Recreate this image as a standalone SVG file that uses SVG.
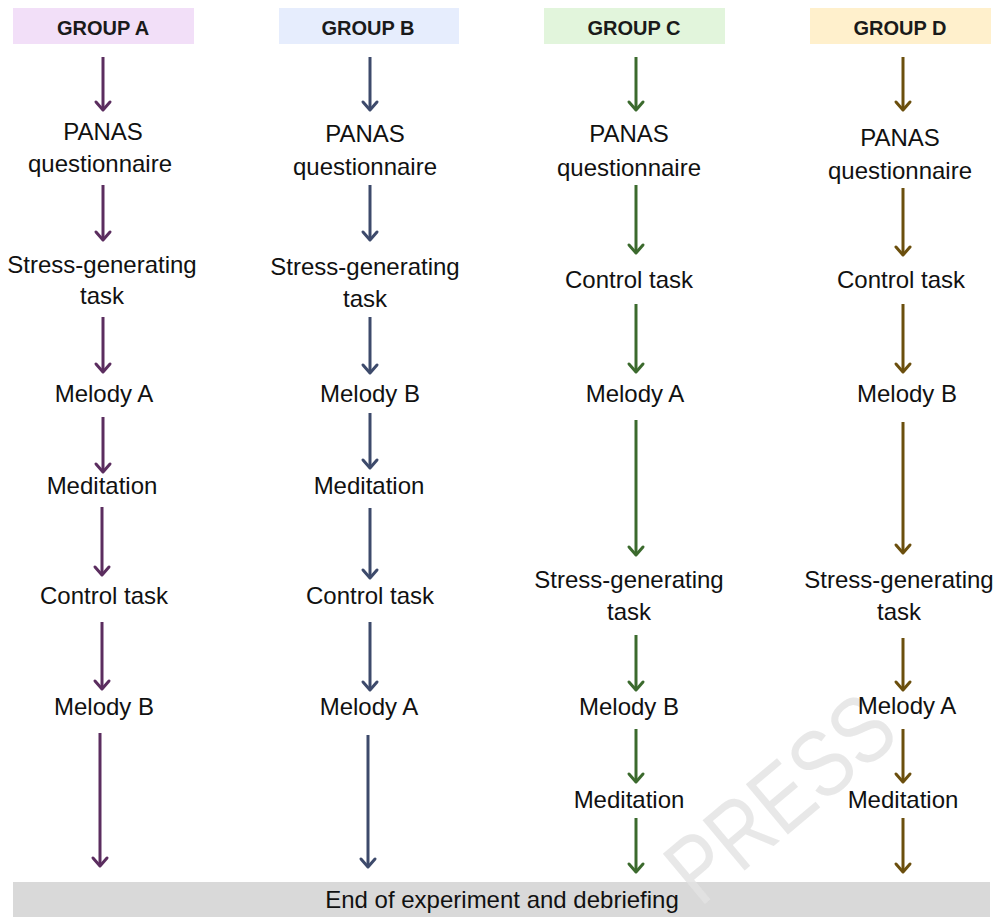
<svg xmlns="http://www.w3.org/2000/svg" width="996" height="917" viewBox="0 0 996 917">
<style>
.hdr{font-family:"Liberation Sans",Arial,sans-serif;font-weight:bold;font-size:20px;fill:#1a1a1a;text-anchor:middle}
.t{font-family:"Liberation Sans",Arial,sans-serif;font-size:24px;fill:#111;text-anchor:middle}
.end{font-family:"Liberation Sans",Arial,sans-serif;font-size:24px;fill:#111;text-anchor:middle}
.wm{font-family:"Liberation Sans",Arial,sans-serif;font-size:95px;fill:#e2e2e2;fill-opacity:0.8}
.ca{stroke:#5b2d5f;stroke-width:3;fill:none;marker-end:url(#ma)}
.cb{stroke:#3d4a6b;stroke-width:3;fill:none;marker-end:url(#mb)}
.cc{stroke:#3b6a2d;stroke-width:3;fill:none;marker-end:url(#mc)}
.cd{stroke:#6b4f0d;stroke-width:3;fill:none;marker-end:url(#md)}
</style>
<defs>
<marker id="ma" markerUnits="userSpaceOnUse" orient="auto" refX="0" refY="0" markerWidth="20" markerHeight="20" overflow="visible"><path d="M-8,-7 L0,0 L-8,7" fill="none" stroke="#5b2d5f" stroke-width="3" stroke-linecap="round" stroke-linejoin="round"/></marker>
<marker id="mb" markerUnits="userSpaceOnUse" orient="auto" refX="0" refY="0" markerWidth="20" markerHeight="20" overflow="visible"><path d="M-8,-7 L0,0 L-8,7" fill="none" stroke="#3d4a6b" stroke-width="3" stroke-linecap="round" stroke-linejoin="round"/></marker>
<marker id="mc" markerUnits="userSpaceOnUse" orient="auto" refX="0" refY="0" markerWidth="20" markerHeight="20" overflow="visible"><path d="M-8,-7 L0,0 L-8,7" fill="none" stroke="#3b6a2d" stroke-width="3" stroke-linecap="round" stroke-linejoin="round"/></marker>
<marker id="md" markerUnits="userSpaceOnUse" orient="auto" refX="0" refY="0" markerWidth="20" markerHeight="20" overflow="visible"><path d="M-8,-7 L0,0 L-8,7" fill="none" stroke="#6b4f0d" stroke-width="3" stroke-linecap="round" stroke-linejoin="round"/></marker>
</defs>
<rect width="996" height="917" fill="#ffffff"/>

<g id="end">
<rect x="13" y="882" width="977" height="40" fill="#d9d9d9"/>
<text class="end" x="502" y="908">End of experiment and debriefing</text>
</g>

<text class="wm" transform="translate(700,908) rotate(-40) scale(0.82,1)">PRESS</text>

<g id="headers">
<g id="groupA"><rect x="13" y="8" width="181" height="36" fill="#f2dff8"/><text class="hdr" x="103" y="35">GROUP A</text></g>
<g id="groupB"><rect x="279" y="8" width="180" height="36" fill="#e6edfd"/><text class="hdr" x="368" y="35">GROUP B</text></g>
<g id="groupC"><rect x="544" y="8" width="181" height="36" fill="#e2f5dc"/><text class="hdr" x="634" y="35">GROUP C</text></g>
<g id="groupD"><rect x="810" y="8" width="181" height="36" fill="#fff0cc"/><text class="hdr" x="900" y="35">GROUP D</text></g>
</g>

<g id="connectors">
<line class="ca" x1="103" y1="57" x2="103" y2="110"/>
<line class="ca" x1="103" y1="185" x2="103" y2="240"/>
<line class="ca" x1="103" y1="317" x2="103" y2="372"/>
<line class="ca" x1="103" y1="417" x2="103" y2="472"/>
<line class="ca" x1="102" y1="507" x2="102" y2="575"/>
<line class="ca" x1="102" y1="622" x2="102" y2="689"/>
<line class="ca" x1="100" y1="733" x2="100" y2="866"/>

<line class="cb" x1="370" y1="57" x2="370" y2="110"/>
<line class="cb" x1="370" y1="185" x2="370" y2="240"/>
<line class="cb" x1="370" y1="317" x2="370" y2="373"/>
<line class="cb" x1="370" y1="413" x2="370" y2="468"/>
<line class="cb" x1="370" y1="508" x2="370" y2="578"/>
<line class="cb" x1="370" y1="622" x2="370" y2="690"/>
<line class="cb" x1="368" y1="735" x2="368" y2="867"/>

<line class="cc" x1="636" y1="57" x2="636" y2="110"/>
<line class="cc" x1="636" y1="185" x2="636" y2="253"/>
<line class="cc" x1="636" y1="304" x2="636" y2="372"/>
<line class="cc" x1="636" y1="420" x2="636" y2="555"/>
<line class="cc" x1="636" y1="635" x2="636" y2="690"/>
<line class="cc" x1="636" y1="729" x2="636" y2="782"/>
<line class="cc" x1="636" y1="818" x2="636" y2="872"/>

<line class="cd" x1="903" y1="57" x2="903" y2="110"/>
<line class="cd" x1="903" y1="188" x2="903" y2="255"/>
<line class="cd" x1="903" y1="304" x2="903" y2="372"/>
<line class="cd" x1="903" y1="422" x2="903" y2="553"/>
<line class="cd" x1="903" y1="638" x2="903" y2="690"/>
<line class="cd" x1="903" y1="729" x2="903" y2="782"/>
<line class="cd" x1="903" y1="818" x2="903" y2="872"/>
</g>

<g id="colA">
<g id="a1"><text class="t" x="103" y="140">PANAS</text><text class="t" x="100" y="172">questionnaire</text></g>
<g id="a2"><text class="t" x="102" y="273">Stress-generating</text><text class="t" x="102" y="304">task</text></g>
<g id="a3"><text class="t" x="104" y="402">Melody A</text></g>
<g id="a4"><text class="t" x="102" y="494">Meditation</text></g>
<g id="a5"><text class="t" x="104" y="604">Control task</text></g>
<g id="a6"><text class="t" x="104" y="715">Melody B</text></g>
</g>

<g id="colB">
<g id="b1"><text class="t" x="365" y="142">PANAS</text><text class="t" x="365" y="175">questionnaire</text></g>
<g id="b2"><text class="t" x="365" y="275">Stress-generating</text><text class="t" x="365" y="307">task</text></g>
<g id="b3"><text class="t" x="370" y="402">Melody B</text></g>
<g id="b4"><text class="t" x="369" y="494">Meditation</text></g>
<g id="b5"><text class="t" x="370" y="604">Control task</text></g>
<g id="b6"><text class="t" x="369" y="715">Melody A</text></g>
</g>

<g id="colC">
<g id="c1"><text class="t" x="629" y="142">PANAS</text><text class="t" x="629" y="176">questionnaire</text></g>
<g id="c2"><text class="t" x="629" y="288">Control task</text></g>
<g id="c3"><text class="t" x="635" y="402">Melody A</text></g>
<g id="c4"><text class="t" x="629" y="588">Stress-generating</text><text class="t" x="629" y="620">task</text></g>
<g id="c5"><text class="t" x="629" y="715">Melody B</text></g>
<g id="c6"><text class="t" x="629" y="808">Meditation</text></g>
</g>

<g id="colD">
<g id="d1"><text class="t" x="900" y="146">PANAS</text><text class="t" x="900" y="179">questionnaire</text></g>
<g id="d2"><text class="t" x="901" y="288">Control task</text></g>
<g id="d3"><text class="t" x="907" y="402">Melody B</text></g>
<g id="d4"><text class="t" x="899" y="588">Stress-generating</text><text class="t" x="899" y="620">task</text></g>
<g id="d5"><text class="t" x="907" y="714">Melody A</text></g>
<g id="d6"><text class="t" x="903" y="808">Meditation</text></g>
</g>
</svg>
